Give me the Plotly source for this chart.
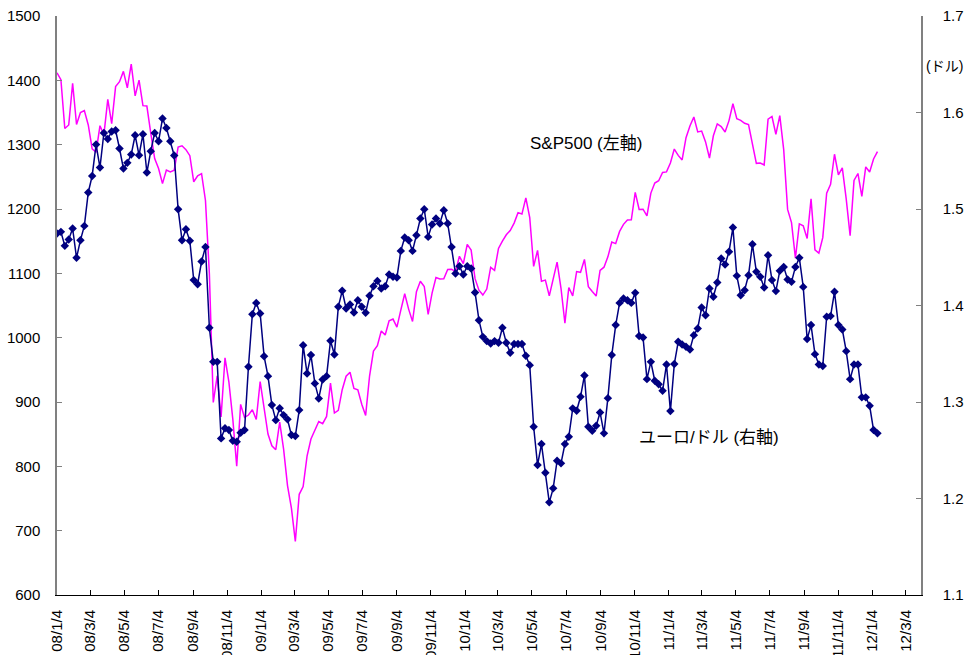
import pandas as pd
import plotly.graph_objects as go

# ---------------- data ----------------
start_date = "2008-01-04"   # first weekly observation (Friday)
n_weeks = 211
week_dates = pd.date_range(start_date, periods=n_weeks, freq="7D")

# S&P500 weekly close (left axis)
sp500 = [
    1411.63, 1401.02, 1325.19, 1330.61, 1395.42, 1331.29, 1349.99, 1353.11, 1330.63, 1293.37,
    1288.14, 1329.51, 1315.22, 1370.40, 1332.83, 1390.33, 1397.84, 1413.90, 1388.28, 1425.35,
    1375.93, 1400.38, 1360.68, 1360.03, 1317.93, 1278.38, 1262.90, 1239.49, 1260.68, 1257.76,
    1260.31, 1296.32, 1298.20, 1292.20, 1282.83, 1242.31, 1251.70, 1255.08, 1213.27, 1099.23,
    899.22, 940.55, 876.77, 968.75, 930.99, 873.29, 800.03, 896.24, 876.07, 879.73,
    887.88, 872.80,
    931.80, 890.35, 850.12, 831.95, 825.88, 868.60, 826.84, 770.05, 735.09, 683.38,
    756.55, 768.54, 815.94, 842.50, 856.56, 869.60, 866.23, 877.52, 929.23, 882.88,
    887.00, 919.14, 940.09, 946.21, 921.23, 918.90, 896.42, 879.13, 940.38, 979.26,
    987.48, 1010.48, 1004.09, 1026.13, 1028.93, 1016.40, 1042.73, 1068.30, 1044.38, 1025.21,
    1071.49, 1087.68, 1079.60, 1036.19, 1069.30, 1093.48, 1091.38, 1091.49, 1105.98, 1106.41,
    1102.47, 1126.48, 1115.10,
    1144.98, 1136.03, 1091.76, 1073.87, 1066.19, 1075.51, 1109.17, 1104.49, 1138.70, 1149.99,
    1159.90, 1166.59, 1178.10, 1194.37, 1192.13, 1217.28, 1186.69, 1110.88, 1135.68, 1087.69,
    1089.41, 1064.88, 1091.60, 1117.51, 1076.76, 1022.58, 1077.96, 1064.88, 1102.66, 1101.60,
    1121.64, 1079.25, 1071.69, 1064.59, 1104.51, 1109.55, 1125.59, 1148.67, 1146.24, 1165.15,
    1176.19, 1183.08, 1183.26, 1225.85, 1199.21, 1199.73, 1189.40, 1224.71, 1240.40, 1243.91,
    1256.77, 1257.64,
    1271.50, 1293.24, 1283.35, 1276.34, 1310.87, 1329.15, 1343.01, 1319.88, 1321.15, 1304.28,
    1279.20, 1313.80, 1332.41, 1328.17, 1319.68, 1337.38, 1363.61, 1340.20, 1337.77, 1333.27,
    1331.10, 1300.16, 1270.98, 1271.50, 1268.45, 1339.67, 1343.80, 1316.14, 1345.02, 1292.28,
    1199.38, 1178.81, 1123.53, 1176.80, 1173.97, 1154.23, 1216.01, 1136.43, 1131.42, 1155.46,
    1224.58, 1238.25, 1285.09, 1253.23, 1263.85, 1215.65, 1158.67, 1244.28, 1255.19, 1219.66,
    1265.33, 1257.60,
    1277.81, 1289.09,
]

# EUR/USD weekly (right axis)
eurusd = [
    1.4746, 1.4763, 1.4618, 1.4684, 1.4798, 1.4494, 1.4677, 1.4825, 1.5171, 1.5343,
    1.5668, 1.5430, 1.5788, 1.5726, 1.5803, 1.5816, 1.5627, 1.5419, 1.5478, 1.5564,
    1.5764, 1.5557, 1.5775, 1.5378, 1.5599, 1.5788, 1.5702, 1.5937, 1.5840, 1.5702,
    1.5555, 1.4998, 1.4677, 1.4791, 1.4670, 1.4263, 1.4221, 1.4456, 1.4607, 1.3769,
    1.3416, 1.3416, 1.2623, 1.2727, 1.2709, 1.2598, 1.2589, 1.2681, 1.2709, 1.3365,
    1.3910, 1.4027, 1.3918, 1.3475, 1.3268, 1.2968, 1.2812, 1.2936, 1.2864, 1.2820,
    1.2657, 1.2647, 1.2916, 1.3589, 1.3296, 1.3486, 1.3193, 1.3037, 1.3234, 1.3268,
    1.3634, 1.3493, 1.3986, 1.4152, 1.3969, 1.4011, 1.3928, 1.4055, 1.3986, 1.3924,
    1.4100, 1.4200, 1.4255, 1.4177, 1.4200, 1.4321, 1.4297, 1.4290, 1.4566, 1.4705,
    1.4677, 1.4566, 1.4729, 1.4902, 1.4998, 1.4711, 1.4839, 1.4902, 1.4850, 1.4988,
    1.4850, 1.4607, 1.4332, 1.4408, 1.4321, 1.4408, 1.4384, 1.4135, 1.3848, 1.3675,
    1.3631, 1.3607, 1.3631, 1.3613, 1.3769, 1.3613, 1.3510, 1.3600, 1.3600, 1.3600,
    1.3479, 1.3382, 1.2743, 1.2347, 1.2564, 1.2267, 1.1960, 1.2105, 1.2391, 1.2364,
    1.2564, 1.2640, 1.2934, 1.2909, 1.3054, 1.3275, 1.2743, 1.2702, 1.2753, 1.2892,
    1.2675, 1.3040, 1.3486, 1.3797, 1.4027, 1.4073, 1.4055, 1.4027, 1.4131, 1.3683,
    1.3669, 1.3237, 1.3416, 1.3220, 1.3185, 1.3116, 1.3389, 1.2906, 1.3393, 1.3624,
    1.3596, 1.3572, 1.3545, 1.3693, 1.3762, 1.3980, 1.3900, 1.4177, 1.4090, 1.4239,
    1.4487, 1.4425, 1.4556, 1.4808, 1.4307, 1.4107, 1.4159, 1.4314, 1.4635, 1.4349,
    1.4297, 1.4187, 1.4521, 1.4263, 1.4149, 1.4359, 1.4400, 1.4270, 1.4245, 1.4400,
    1.4494, 1.4193, 1.3653, 1.3797, 1.3496, 1.3389, 1.3372, 1.3883, 1.3890, 1.4142,
    1.3797, 1.3752, 1.3527, 1.3237, 1.3389, 1.3389, 1.3048, 1.3048, 1.2961, 1.2709,
    1.2675,
]

tick_labels = [
    "08/1/4", "08/3/4", "08/5/4", "08/7/4", "08/9/4", "08/11/4",
    "09/1/4", "09/3/4", "09/5/4", "09/7/4", "09/9/4", "09/11/4",
    "10/1/4", "10/3/4", "10/5/4", "10/7/4", "10/9/4", "10/11/4",
    "11/1/4", "11/3/4", "11/5/4", "11/7/4", "11/9/4", "11/11/4",
    "12/1/4", "12/3/4",
]
tick_dates = [pd.Timestamp(2000 + int(a), int(b), int(c))
              for a, b, c in (t.split("/") for t in tick_labels)]

x_range = ["2008-01-04", "2012-03-31"]
left_range = [600, 1500]
right_range = [1.1, 1.7]

label_sp = "S&P500 (左軸)"
label_eur = "ユーロ/ドル (右軸)"
unit_right = "(ドル)"

# ---------------- figure ----------------
FONT = "Liberation Sans, Arial, 'Noto Sans CJK JP', sans-serif"

fig = go.Figure()
fig.add_trace(go.Scatter(
    x=week_dates, y=sp500, mode="lines", name=label_sp,
    line=dict(color="#FF00FF", width=1.5), yaxis="y",
))
fig.add_trace(go.Scatter(
    x=week_dates, y=eurusd, mode="lines+markers", name=label_eur,
    line=dict(color="#000080", width=1.5),
    marker=dict(symbol="diamond", size=6.5, color="#000080"),
    yaxis="y2",
))

fig.update_layout(
    width=976, height=655,
    margin=dict(l=57, r=54.5, t=16, b=60, autoexpand=False),
    paper_bgcolor="white", plot_bgcolor="white",
    showlegend=False,
    font=dict(family=FONT, size=15, color="black"),
    xaxis=dict(
        type="date", range=x_range,
        tickmode="array", tickvals=tick_dates, ticktext=tick_labels,
        tickangle=-90, ticks="inside", ticklen=5, tickcolor="black",
        showline=True, linecolor="black", linewidth=1,
        showgrid=False, zeroline=False, ticklabelstandoff=8,
        tickfont=dict(size=15),
    ),
    yaxis=dict(
        range=left_range, tick0=600, dtick=100,
        ticks="inside", ticklen=5, tickcolor="#808080",
        showline=True, linecolor="#808080", linewidth=1.5,
        showgrid=False, zeroline=False, ticklabelstandoff=12,
        tickfont=dict(size=15),
    ),
    yaxis2=dict(
        range=right_range, tick0=1.1, dtick=0.1, tickformat=".1f",
        overlaying="y", side="right",
        ticks="inside", ticklen=5, tickcolor="#808080",
        showline=True, linecolor="#808080", linewidth=1.5,
        showgrid=False, zeroline=False, ticklabelstandoff=17,
        tickfont=dict(size=15),
    ),
    annotations=[
        dict(text=label_sp, xref="paper", yref="paper", x=0.5452, y=0.7794,
             xanchor="left", yanchor="middle", showarrow=False,
             font=dict(family=FONT, size=17, color="black")),
        dict(text=label_eur, xref="paper", yref="paper", x=0.6709, y=0.2727,
             xanchor="left", yanchor="middle", showarrow=False,
             font=dict(family=FONT, size=17, color="black")),
        dict(text=unit_right, xref="paper", yref="paper", x=1.027, y=0.9132,
             xanchor="center", yanchor="middle", showarrow=False,
             font=dict(family=FONT, size=14, color="black")),
    ],
)

fig.write_html(
    "out.html",
    config={"displayModeBar": False},
    post_script="document.body.style.margin='0';document.body.style.overflow='hidden';",
)
